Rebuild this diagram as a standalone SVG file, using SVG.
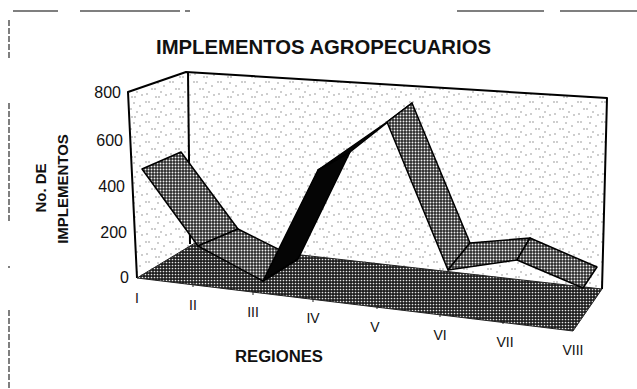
<svg xmlns="http://www.w3.org/2000/svg" width="637" height="389" viewBox="0 0 637 389">
<style>
.frame{stroke:#555;stroke-width:1.5;fill:none}
.edge{stroke:#000;stroke-width:2;fill:none;stroke-linejoin:round}
.rib{fill:url(#mesh);stroke:#000;stroke-width:1.5;stroke-linejoin:round}
.ribdark{fill:#050505;stroke:#000;stroke-width:1.5;stroke-linejoin:round}
.ax{font-family:"Liberation Sans",Arial,sans-serif;font-size:16px;fill:#111}
.cat{font-family:"Liberation Sans",Arial,sans-serif;font-size:14px;fill:#111;text-anchor:middle}
.bold{font-family:"Liberation Sans",Arial,sans-serif;font-weight:bold;fill:#111}
</style>
<defs>
<pattern id="wallDots" width="24" height="20" patternUnits="userSpaceOnUse">
<rect width="24" height="20" fill="#fff"/>
<g fill="#777">
<circle cx="2" cy="2" r="0.7"/><circle cx="5" cy="2" r="0.7"/><circle cx="14" cy="3" r="0.7"/>
<circle cx="20" cy="6" r="0.7"/><circle cx="8" cy="9" r="0.7"/><circle cx="11" cy="9" r="0.7"/>
<circle cx="17" cy="12" r="0.7"/><circle cx="3" cy="14" r="0.7"/><circle cx="22" cy="15" r="0.7"/>
<circle cx="12" cy="17" r="0.7"/><circle cx="15" cy="17" r="0.7"/>
</g>
</pattern>
<pattern id="mesh" width="3" height="3" patternUnits="userSpaceOnUse">
<rect width="3" height="3" fill="#2a2a2a"/>
<circle cx="1.5" cy="1.5" r="0.95" fill="#f0f0f0"/>
</pattern>
<pattern id="floorMesh" width="3" height="3" patternUnits="userSpaceOnUse">
<rect width="3" height="3" fill="#1e1e1e"/>
<circle cx="1.5" cy="1.5" r="0.85" fill="#e8e8e8"/>
</pattern>
</defs>
<rect width="637" height="389" fill="#fff"/>
<g id="frame">
<path class="frame" d="M13 11H58M80 11H180M185 11H190M457 11H544M560 11H637"/>
<path class="frame" d="M9 20V58M9 103V223M9 266V268M9 310V389" stroke-dasharray="6 2"/>
</g>
<g id="walls">
<polygon points="128,92 186,72 607,98 602,289 195,243 137,278" fill="url(#wallDots)"/>
<path class="edge" d="M137,278 L128,92 L186,72 L607,98 L602,289"/>
<path class="edge" d="M188,72 L190,244"/>
</g>
<g id="floor">
<polygon points="137,278 195,243 602,289 573,331" fill="url(#floorMesh)" stroke="#222" stroke-width="1"/>
</g>
<g id="series">
<polygon class="rib" points="142,169 198,246 238,229 181,152"/>
<polygon class="rib" points="198,246 263,281 298,259 238,229"/>
<polygon class="ribdark" points="263,281 318,170 350,152 298,259"/>
<polygon class="ribdark" points="318,170 387,122 412,103 350,152"/>
<polygon class="rib" points="387,122 448,270 470,243 412,103"/>
<polygon class="rib" points="448,270 517,260 530,238 470,243"/>
<polygon class="rib" points="517,260 583,288 597,267 530,238"/>
</g>
<g id="ticks" stroke="#222" stroke-width="1">
<path d="M193,283v4M253,291v4M313,298v4M377,305v4M440,313v4M503,320v4"/>
</g>
<g id="labels">
<text class="bold" x="156" y="54" font-size="20" textLength="335" lengthAdjust="spacingAndGlyphs">IMPLEMENTOS AGROPECUARIOS</text>
<text class="ax" x="121" y="98" text-anchor="end">800</text>
<text class="ax" x="123" y="146" text-anchor="end">600</text>
<text class="ax" x="125" y="192" text-anchor="end">400</text>
<text class="ax" x="127" y="238" text-anchor="end">200</text>
<text class="ax" x="129" y="283" text-anchor="end">0</text>
<text class="bold" font-size="15" text-anchor="middle" transform="translate(46,188) rotate(-90)">No. DE</text>
<text class="bold" font-size="15" text-anchor="middle" transform="translate(68,189) rotate(-90)">IMPLEMENTOS</text>
<text class="cat" x="137" y="303">I</text>
<text class="cat" x="193" y="310">II</text>
<text class="cat" x="253" y="317">III</text>
<text class="cat" x="313" y="323">IV</text>
<text class="cat" x="375" y="332">V</text>
<text class="cat" x="440" y="340">VI</text>
<text class="cat" x="505" y="347">VII</text>
<text class="cat" x="573" y="355">VIII</text>
<text class="bold" x="279" y="362" font-size="16" text-anchor="middle" textLength="88" lengthAdjust="spacingAndGlyphs">REGIONES</text>
</g>
</svg>
